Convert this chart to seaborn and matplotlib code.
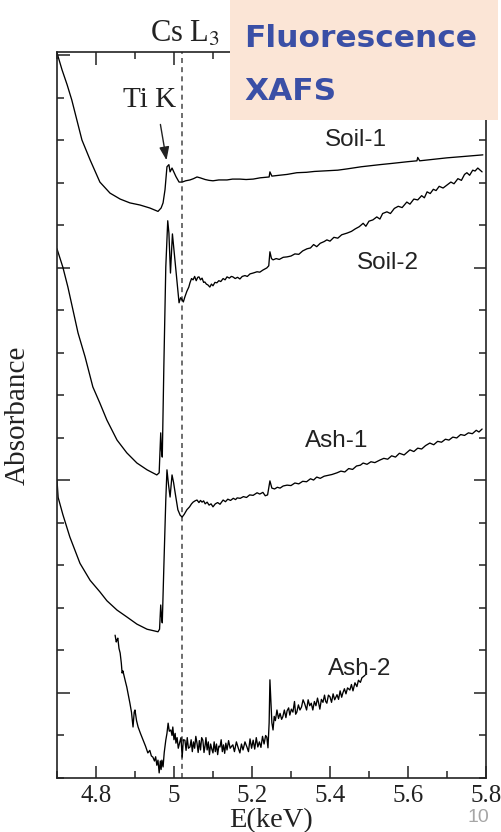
import numpy as np
import pandas as pd
import matplotlib
matplotlib.use("Agg")
import matplotlib.pyplot as plt
import matplotlib.ticker as mticker
from matplotlib.patches import Rectangle
import seaborn as sns

# spectra (energy in keV, absorbance in offset units)
soil1_e = [4.700, 4.713, 4.726, 4.738, 4.751, 4.764, 4.785, 4.810, 4.836, 4.862, 4.887, 4.913,
           4.938, 4.959, 4.967, 4.972, 4.977, 4.982, 4.987, 4.990, 4.995, 4.997, 5.005, 5.013,
           5.021, 5.030, 5.041, 5.050, 5.059, 5.067, 5.080, 5.090, 5.100, 5.115, 5.136, 5.150,
           5.169, 5.185, 5.203, 5.221, 5.244, 5.246, 5.251, 5.270, 5.290, 5.315, 5.340, 5.360,
           5.400, 5.420, 5.444, 5.480, 5.528, 5.560, 5.600, 5.623, 5.625, 5.630, 5.660, 5.700,
           5.740, 5.792]
soil1_a = [17.06, 16.66, 16.31, 15.95, 15.48, 15.01, 14.54, 14.02, 13.76, 13.62, 13.53, 13.48,
           13.41, 13.33, 13.41, 13.53, 13.84, 14.38, 14.43, 14.26, 14.35, 14.31, 14.15, 14.02,
           14.02, 14.05, 14.07, 14.10, 14.14, 14.12, 14.08, 14.06, 14.05, 14.07, 14.07, 14.09,
           14.09, 14.08, 14.09, 14.12, 14.14, 14.26, 14.16, 14.18, 14.20, 14.24, 14.25, 14.27,
           14.29, 14.30, 14.33, 14.38, 14.43, 14.46, 14.50, 14.52, 14.60, 14.52, 14.55, 14.59,
           14.62, 14.66]

soil2_e = [4.700, 4.715, 4.728, 4.741, 4.754, 4.772, 4.792, 4.810, 4.828, 4.854, 4.879, 4.905,
           4.931, 4.956, 4.962, 4.966, 4.968, 4.970, 4.974, 4.979, 4.984, 4.987, 4.991, 4.996,
           5.000, 5.008, 5.013, 5.017, 5.021, 5.024, 5.028, 5.033, 5.038, 5.041, 5.045, 5.049,
           5.053, 5.057, 5.061, 5.064, 5.068, 5.072, 5.076, 5.079, 5.083, 5.087, 5.092, 5.096,
           5.100, 5.105, 5.110, 5.115, 5.120, 5.126, 5.131, 5.136, 5.142, 5.147, 5.151, 5.157,
           5.163, 5.169, 5.175, 5.182, 5.188, 5.195, 5.203, 5.213, 5.220, 5.228, 5.238, 5.243,
           5.246, 5.250, 5.254, 5.262, 5.270, 5.280, 5.290, 5.300, 5.310, 5.320, 5.330, 5.341,
           5.350, 5.358, 5.366, 5.375, 5.385, 5.392, 5.400, 5.410, 5.420, 5.430, 5.444, 5.455,
           5.465, 5.475, 5.485, 5.492, 5.500, 5.510, 5.520, 5.528, 5.535, 5.546, 5.555, 5.565,
           5.575, 5.585, 5.597, 5.605, 5.615, 5.625, 5.635, 5.642, 5.649, 5.657, 5.665, 5.672,
           5.680, 5.690, 5.700, 5.710, 5.718, 5.728, 5.737, 5.745, 5.751, 5.758, 5.766, 5.772,
           5.779, 5.785, 5.790]
soil2_a = [12.45, 12.02, 11.55, 11.01, 10.47, 9.91, 9.20, 8.82, 8.42, 7.95, 7.65, 7.41,
           7.25, 7.13, 7.18, 8.12, 7.70, 7.55, 9.67, 12.02, 13.11, 12.82, 11.88, 12.80,
           12.42, 11.65, 11.18, 11.30, 11.25, 11.20, 11.32, 11.45, 11.55, 11.65, 11.75, 11.72,
           11.80, 11.70, 11.78, 11.79, 11.72, 11.76, 11.66, 11.67, 11.62, 11.60, 11.55, 11.62,
           11.58, 11.66, 11.65, 11.70, 11.68, 11.75, 11.72, 11.79, 11.76, 11.80, 11.79, 11.75,
           11.78, 11.74, 11.80, 11.82, 11.80, 11.86, 11.88, 11.91, 11.90, 11.95, 12.00, 12.05,
           12.38, 12.22, 12.19, 12.22, 12.20, 12.25, 12.26, 12.28, 12.33, 12.32, 12.40, 12.45,
           12.47, 12.55, 12.50, 12.58, 12.62, 12.66, 12.63, 12.72, 12.70, 12.78, 12.82, 12.86,
           12.92, 12.97, 13.05, 12.98, 13.10, 13.13, 13.20, 13.15, 13.28, 13.32, 13.28, 13.40,
           13.45, 13.42, 13.55, 13.50, 13.62, 13.60, 13.70, 13.65, 13.79, 13.75, 13.85, 13.82,
           13.92, 13.88, 13.95, 14.02, 13.98, 14.10, 14.06, 14.20, 14.24, 14.18, 14.30, 14.28,
           14.35, 14.30, 14.26]

ash1_e = [4.700, 4.703, 4.715, 4.733, 4.759, 4.785, 4.810, 4.828, 4.854, 4.879, 4.905, 4.931,
          4.950, 4.959, 4.963, 4.966, 4.968, 4.970, 4.974, 4.979, 4.982, 4.986, 4.990, 4.995,
          4.999, 5.003, 5.010, 5.016, 5.021, 5.026, 5.033, 5.040, 5.045, 5.049, 5.054, 5.059,
          5.064, 5.068, 5.072, 5.076, 5.080, 5.085, 5.090, 5.095, 5.100, 5.106, 5.112, 5.118,
          5.126, 5.132, 5.138, 5.145, 5.152, 5.158, 5.162, 5.170, 5.178, 5.186, 5.194, 5.203,
          5.213, 5.220, 5.228, 5.234, 5.240, 5.246, 5.251, 5.258, 5.265, 5.272, 5.280, 5.290,
          5.300, 5.310, 5.320, 5.330, 5.340, 5.350, 5.358, 5.366, 5.375, 5.385, 5.395, 5.405,
          5.418, 5.428, 5.438, 5.448, 5.458, 5.468, 5.478, 5.485, 5.495, 5.505, 5.515, 5.528,
          5.538, 5.548, 5.558, 5.568, 5.578, 5.590, 5.605, 5.615, 5.625, 5.635, 5.645, 5.656,
          5.666, 5.676, 5.686, 5.696, 5.705, 5.715, 5.725, 5.735, 5.745, 5.755, 5.765, 5.775,
          5.782, 5.790]
ash1_a = [7.01, 6.60, 6.20, 5.67, 5.05, 4.65, 4.38, 4.17, 3.95, 3.79, 3.62, 3.50,
          3.46, 3.44, 3.50, 4.07, 3.80, 3.65, 4.96, 6.54, 7.25, 6.90, 6.61, 7.13,
          6.95, 6.71, 6.31, 6.18, 6.14, 6.20, 6.31, 6.38, 6.45, 6.49, 6.52, 6.54,
          6.48, 6.53, 6.49, 6.52, 6.45, 6.49, 6.42, 6.45, 6.38, 6.45, 6.48, 6.44,
          6.54, 6.50, 6.56, 6.53, 6.58, 6.55, 6.59, 6.58, 6.62, 6.60, 6.66, 6.65,
          6.71, 6.68, 6.72, 6.64, 6.66, 6.99, 6.82, 6.80, 6.84, 6.82, 6.87, 6.89,
          6.88, 6.94, 6.92, 6.98, 6.97, 7.04, 7.01, 7.08, 7.05, 7.10, 7.12, 7.14,
          7.18, 7.22, 7.20, 7.28, 7.26, 7.34, 7.36, 7.41, 7.38, 7.44, 7.42, 7.48,
          7.52, 7.50, 7.58, 7.55, 7.64, 7.60, 7.72, 7.68, 7.76, 7.74, 7.82, 7.88,
          7.84, 7.92, 7.90, 7.97, 7.95, 8.02, 8.00, 8.08, 8.06, 8.12, 8.10, 8.18,
          8.14, 8.21]

ash2_e = [4.849, 4.852, 4.854, 4.856, 4.859, 4.862, 4.865, 4.867, 4.869, 4.872, 4.876, 4.879,
          4.883, 4.887, 4.891, 4.895, 4.898, 4.900, 4.904, 4.908, 4.914, 4.921, 4.927, 4.933,
          4.938, 4.942, 4.946, 4.950, 4.953, 4.956, 4.959, 4.962, 4.965, 4.967, 4.969, 4.972,
          4.975, 4.979, 4.982, 4.985, 4.988, 4.992, 4.995, 4.997, 5.000, 5.003, 5.005, 5.008,
          5.011, 5.015, 5.018, 5.021, 5.024, 5.028, 5.031, 5.034, 5.037, 5.041, 5.044, 5.047,
          5.050, 5.053, 5.056, 5.059, 5.062, 5.065, 5.068, 5.071, 5.074, 5.077, 5.080, 5.082,
          5.085, 5.088, 5.091, 5.094, 5.097, 5.100, 5.103, 5.106, 5.109, 5.112, 5.115, 5.118,
          5.121, 5.124, 5.127, 5.130, 5.133, 5.136, 5.140, 5.144, 5.148, 5.151, 5.155, 5.160,
          5.165, 5.169, 5.173, 5.177, 5.182, 5.187, 5.191, 5.195, 5.199, 5.203, 5.207, 5.211,
          5.215, 5.219, 5.223, 5.227, 5.231, 5.235, 5.238, 5.241, 5.244, 5.246, 5.249, 5.251,
          5.254, 5.257, 5.260, 5.264, 5.268, 5.272, 5.276, 5.279, 5.283, 5.287, 5.290, 5.294,
          5.297, 5.301, 5.305, 5.309, 5.312, 5.315, 5.319, 5.323, 5.327, 5.331, 5.335, 5.340,
          5.344, 5.348, 5.352, 5.356, 5.360, 5.364, 5.368, 5.371, 5.374, 5.378, 5.382, 5.386,
          5.389, 5.392, 5.396, 5.400, 5.404, 5.408, 5.412, 5.418, 5.422, 5.426, 5.430, 5.433,
          5.437, 5.441, 5.445, 5.451, 5.455, 5.459, 5.464, 5.469, 5.473, 5.478, 5.482, 5.485,
          5.490]
ash2_a = [3.36, 3.20, 3.25, 3.29, 3.05, 2.94, 2.70, 2.47, 2.52, 2.40, 2.25, 2.14,
          1.95, 1.76, 1.55, 1.20, 1.55, 1.60, 1.35, 1.20, 1.05, 0.89, 0.75, 0.59,
          0.65, 0.52, 0.49, 0.40, 0.50, 0.30, 0.42, 0.12, 0.40, 0.20, 0.42, 0.26,
          0.60, 0.89, 1.05, 1.29, 1.10, 1.13, 1.00, 1.20, 0.90, 1.05, 0.82, 0.95,
          0.70, 0.85, 0.95, 0.49, 0.90, 0.89, 0.65, 0.95, 0.70, 0.73, 0.90, 0.62,
          0.85, 0.70, 0.98, 0.82, 0.60, 0.88, 0.66, 0.95, 0.89, 0.60, 0.78, 0.95,
          0.66, 0.85, 0.55, 0.80, 0.68, 0.59, 0.85, 0.62, 0.80, 0.55, 0.75, 0.73,
          0.90, 0.62, 0.78, 0.58, 0.82, 0.66, 0.88, 0.70, 0.75, 0.78, 0.62, 0.85,
          0.70, 0.59, 0.80, 0.66, 0.85, 0.73, 0.62, 0.92, 0.70, 0.89, 0.68, 0.95,
          0.73, 0.85, 0.72, 0.98, 0.80, 1.00, 0.96, 0.71, 1.30, 2.31, 1.70, 1.30,
          1.13, 1.45, 1.35, 1.60, 1.40, 1.52, 1.38, 1.44, 1.60, 1.42, 1.58, 1.65,
          1.48, 1.62, 1.55, 1.80, 1.50, 1.55, 1.72, 1.60, 1.67, 1.84, 1.75, 1.60,
          1.84, 1.70, 1.76, 1.60, 1.80, 1.70, 1.88, 1.76, 1.62, 1.85, 1.78, 1.95,
          1.80, 1.76, 1.95, 1.91, 1.78, 1.98, 1.84, 1.96, 1.85, 2.05, 1.90, 2.00,
          2.10, 1.98, 2.12, 2.07, 2.20, 2.05, 2.24, 2.15, 2.30, 2.25, 2.36, 2.38,
          2.42]

sample_names = ["Soil-1", "Soil-2", "Ash-1", "Ash-2"]
cs_l3_edge = 5.02

frames = []
for name, e, a in zip(sample_names,
                      [soil1_e, soil2_e, ash1_e, ash2_e],
                      [soil1_a, soil2_a, ash1_a, ash2_a]):
    frames.append(pd.DataFrame({"energy": e, "absorbance": a, "sample": name}))
df = pd.concat(frames, ignore_index=True)

sns.set_style("ticks")
plt.rcParams["font.family"] = ["Liberation Serif", "DejaVu Serif"]
plt.rcParams["mathtext.fontset"] = "stix"

fig = plt.figure(figsize=(5.02, 8.32), dpi=100)
ax = fig.add_axes([0.1135, 0.0649, 0.8546, 0.8726])

for name in sample_names:
    sns.lineplot(data=df[df["sample"] == name], x="energy", y="absorbance",
                 sort=False, estimator=None, color="black", lw=0.95, ax=ax, legend=False)

ax.axvline(cs_l3_edge, color="#555555", lw=1.2, ls=(0, (3, 2.5)), zorder=1)

ax.set_xlim(4.7, 5.8)
ax.set_ylim(0, 17.08)
ax.xaxis.set_major_locator(mticker.MultipleLocator(0.2))
ax.xaxis.set_minor_locator(mticker.MultipleLocator(0.1))
ax.xaxis.set_major_formatter(mticker.FuncFormatter(lambda v, p: f"{v:g}"))
ax.yaxis.set_major_locator(mticker.MultipleLocator(5, offset=2))
ax.yaxis.set_minor_locator(mticker.MultipleLocator(1))
ax.set_yticklabels([])
ax.tick_params(which="both", direction="in", top=True, right=True, width=1.1,
               colors="#222222", labelsize=18, labelcolor="#222222", pad=5)
ax.tick_params(which="major", length=9)
ax.tick_params(which="minor", length=5)
for sp in ax.spines.values():
    sp.set_linewidth(1.2)
    sp.set_color("#222222")

ax.set_xlabel("E(keV)", fontsize=20.5, labelpad=1, color="#222222")
ax.set_ylabel("Absorbance", fontsize=21, labelpad=14, color="#222222")

# sample labels
sans = ["Liberation Sans", "DejaVu Sans"]
ax.text(5.467, 15.01, "Soil-1", family=sans, fontsize=17.5, ha="center", va="center", color="#222222")
ax.text(5.549, 12.12, "Soil-2", family=sans, fontsize=17.5, ha="center", va="center", color="#222222")
ax.text(5.418, 7.93, "Ash-1", family=sans, fontsize=17.5, ha="center", va="center", color="#222222")
ax.text(5.477, 2.56, "Ash-2", family=sans, fontsize=17.5, ha="center", va="center", color="#222222")

ax.annotate("", xy=(4.982, 14.47), xytext=(4.964, 15.44),
            arrowprops=dict(arrowstyle="-|>,head_length=0.8,head_width=0.3", color="#222222", lw=1))
ax.text(4.938, 15.95, "Ti K", fontsize=21, ha="center", va="center", color="#222222")
ax.text(5.028, 17.5, "Cs L$_3$", fontsize=22, ha="center", va="center", color="#222222",
        clip_on=False)

# title box on top of the frame
fig.patches.append(Rectangle((0.458, 0.856), 0.534, 0.144, transform=fig.transFigure,
                             facecolor="#FBE5D6", edgecolor="none", zorder=5))
box_font = ["DejaVu Sans"]
fig.text(0.486, 0.9435, "Fluorescence", family=box_font, fontweight="bold",
         fontsize=22.5, color="#3A4FA6", va="baseline", ha="left", zorder=6)
fig.text(0.486, 0.8798, "XAFS", family=box_font, fontweight="bold",
         fontsize=22.5, color="#3A4FA6", va="baseline", ha="left", zorder=6)

fig.text(0.952, 0.017, "10", family=sans, fontsize=14, color="#A6A6A6", ha="center", va="center")

fig.savefig("out.png", dpi=100)
